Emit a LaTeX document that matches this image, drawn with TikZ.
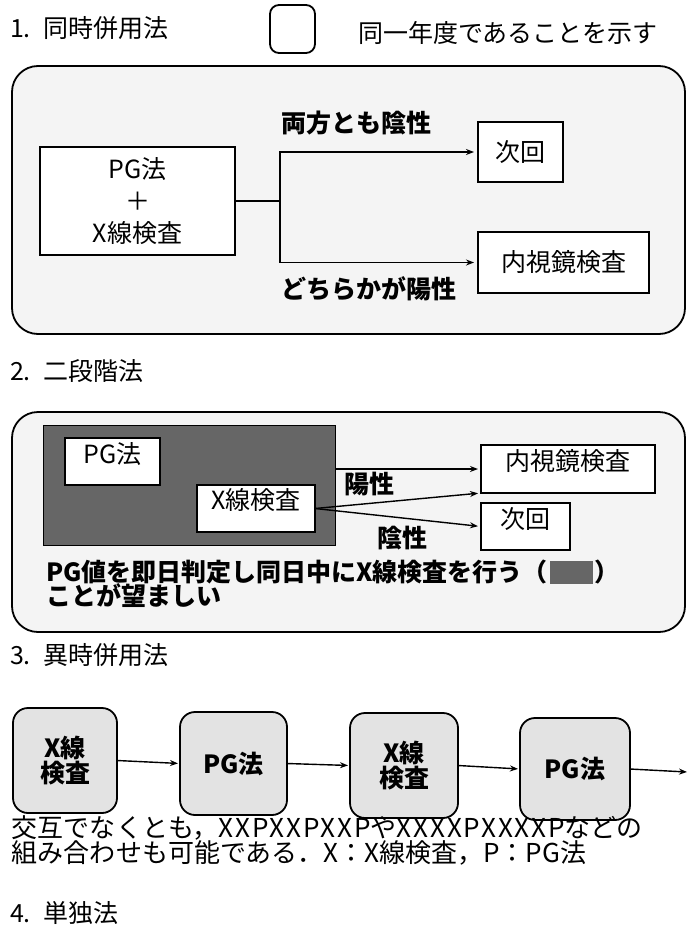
\documentclass[tikz,border=0pt]{standalone}
\usepackage{fontspec}
\setmainfont{Noto Sans CJK JP}
\usetikzlibrary{arrows.meta}
\newcommand{\wideltr}[1]{{\addfontfeature{LetterSpace=7}#1}}
\begin{document}
\begin{tikzpicture}[x=1pt,y=-1pt,
  every node/.style={inner sep=0pt, outer sep=0pt},
  txt/.style={font=\fontsize{25}{30}\selectfont},
  btxt/.style={font=\fontsize{25}{30}\selectfont\bfseries},
  ntxt/.style={font=\fontsize{26}{26}\selectfont},
  panel/.style={draw, line width=1.8pt, rounded corners=26pt, fill=gray!9},
  wbox/.style={draw, line width=1.8pt, fill=white},
  dbox/.style={draw, line width=1pt, fill=black!60},
  rbox/.style={draw, line width=1.8pt, rounded corners=15pt, fill=gray!22, align=center, font=\fontsize{25}{25}\selectfont\bfseries},
  arr/.style={line width=1.8pt, -{Stealth[length=8pt,width=6pt]}},
  tarr/.style={line width=1.4pt, -{Stealth[length=8pt,width=6pt]}},
]
\useasboundingbox (0,0) rectangle (687,926);

% ---------- 1 ----------
\node[txt, anchor=west] (h1) at (10,28) {1.\hspace{13pt}同時併用法};
\node[draw, line width=1.8pt, rounded corners=9pt, minimum width=45pt, minimum height=48pt] (leg) at (292.5,29) {};
\node[txt, anchor=west] (legt) at (358,33) {同一年度であることを示す};
\node[panel, minimum width=673pt, minimum height=268pt] (p1) at (348.5,200) {};
\node[wbox, minimum width=195pt, minimum height=108pt, align=center, font=\fontsize{25}{32}\selectfont] (pgx) at (137.5,201) {PG法\\＋\\X線検査};
\node[wbox, minimum width=85pt, minimum height=60pt, txt] (nx1) at (520.5,152) {次回};
\node[wbox, minimum width=171pt, minimum height=61pt, txt] (en1) at (563.5,262.5) {内視鏡検査};
\coordinate (j1) at (280,201);
\draw[line width=1.8pt] (pgx.east) -- (j1);
\draw[arr, shorten >=4pt] (j1) |- (nx1.west);
\draw[arr, shorten >=4pt] (j1) |- (en1.west);
\node[btxt, anchor=west] (l1) at (281,123) {両方とも陰性};
\node[btxt, anchor=west] (l2) at (281,289) {どちらかが陽性};

% ---------- 2 ----------
\node[txt, anchor=west] (h2) at (10,371) {2.\hspace{13pt}二段階法};
\node[panel, minimum width=673pt, minimum height=220pt] (p2) at (348.5,522) {};
\node[dbox, minimum width=292pt, minimum height=120pt] (dk) at (189,485) {};
\node[wbox, minimum width=95pt, minimum height=47pt] (pgb) at (112.5,461.5) {};
\node[txt] (pgt) at (112.5,454) {PG法};
\node[wbox, minimum width=118pt, minimum height=47pt] (xrb) at (256,508.5) {};
\node[txt] (xrt) at (256,500) {X線検査};
\node[wbox, minimum width=174pt, minimum height=48pt] (en2) at (568,469) {};
\node[txt] (en2t) at (568,461) {内視鏡検査};
\node[wbox, minimum width=89pt, minimum height=47pt] (nx2) at (525.5,526.5) {};
\node[txt] (nx2t) at (525.5,519) {次回};
\draw[tarr, shorten >=3pt] (dk.east |- en2.west) -- (en2.west);
\draw[tarr, shorten >=3pt] (xrb.east) -- (en2.south west);
\draw[tarr, shorten >=3pt] (xrb.east) -- (nx2.west);
\node[btxt] (l3) at (369,484) {陽性};
\node[btxt] (l4) at (402,538) {陰性};
\node[btxt, anchor=west] (t2a) at (46,572) {PG値を即日判定し同日中にX線検査を行う（\hspace{2pt}{\color{black!60}\rule[-3pt]{43pt}{23pt}}\hspace{2pt}）};
\node[btxt, anchor=west] (t2b) at (46,596) {ことが望ましい};

% ---------- 3 ----------
\node[txt, anchor=west] (h3) at (10,655) {3.\hspace{13pt}異時併用法};
\node[rbox, minimum width=104pt, minimum height=105pt] (s1) at (65,760.5) {X線\\検査};
\node[rbox, minimum width=107pt, minimum height=103pt] (s2) at (233.5,763.5) {PG法};
\node[rbox, minimum width=108pt, minimum height=105pt] (s3) at (404,765.5) {X線\\検査};
\node[rbox, minimum width=110pt, minimum height=102pt] (s4) at (575,769) {PG法};
\coordinate (s5) at (687,772);
\draw[tarr, shorten >=2pt] (s1.east) -- (s2.west);
\draw[tarr, shorten >=2pt] (s2.east) -- (s3.west);
\draw[tarr, shorten >=2pt] (s3.east) -- (s4.west);
\draw[tarr] (s4.east) -- (s5);
\node[ntxt, anchor=west] (n1) at (12,828) {交互でなくとも，\wideltr{XXPXXPXXP}や\wideltr{XXXXPXXXXP}などの};
\node[ntxt, anchor=west] (n2) at (12,853) {組み合わせも可能である．X：X線検査，P：PG法};

% ---------- 4 ----------
\node[txt, anchor=west] (h4) at (10,913) {4.\hspace{13pt}単独法};
\end{tikzpicture}
\end{document}
